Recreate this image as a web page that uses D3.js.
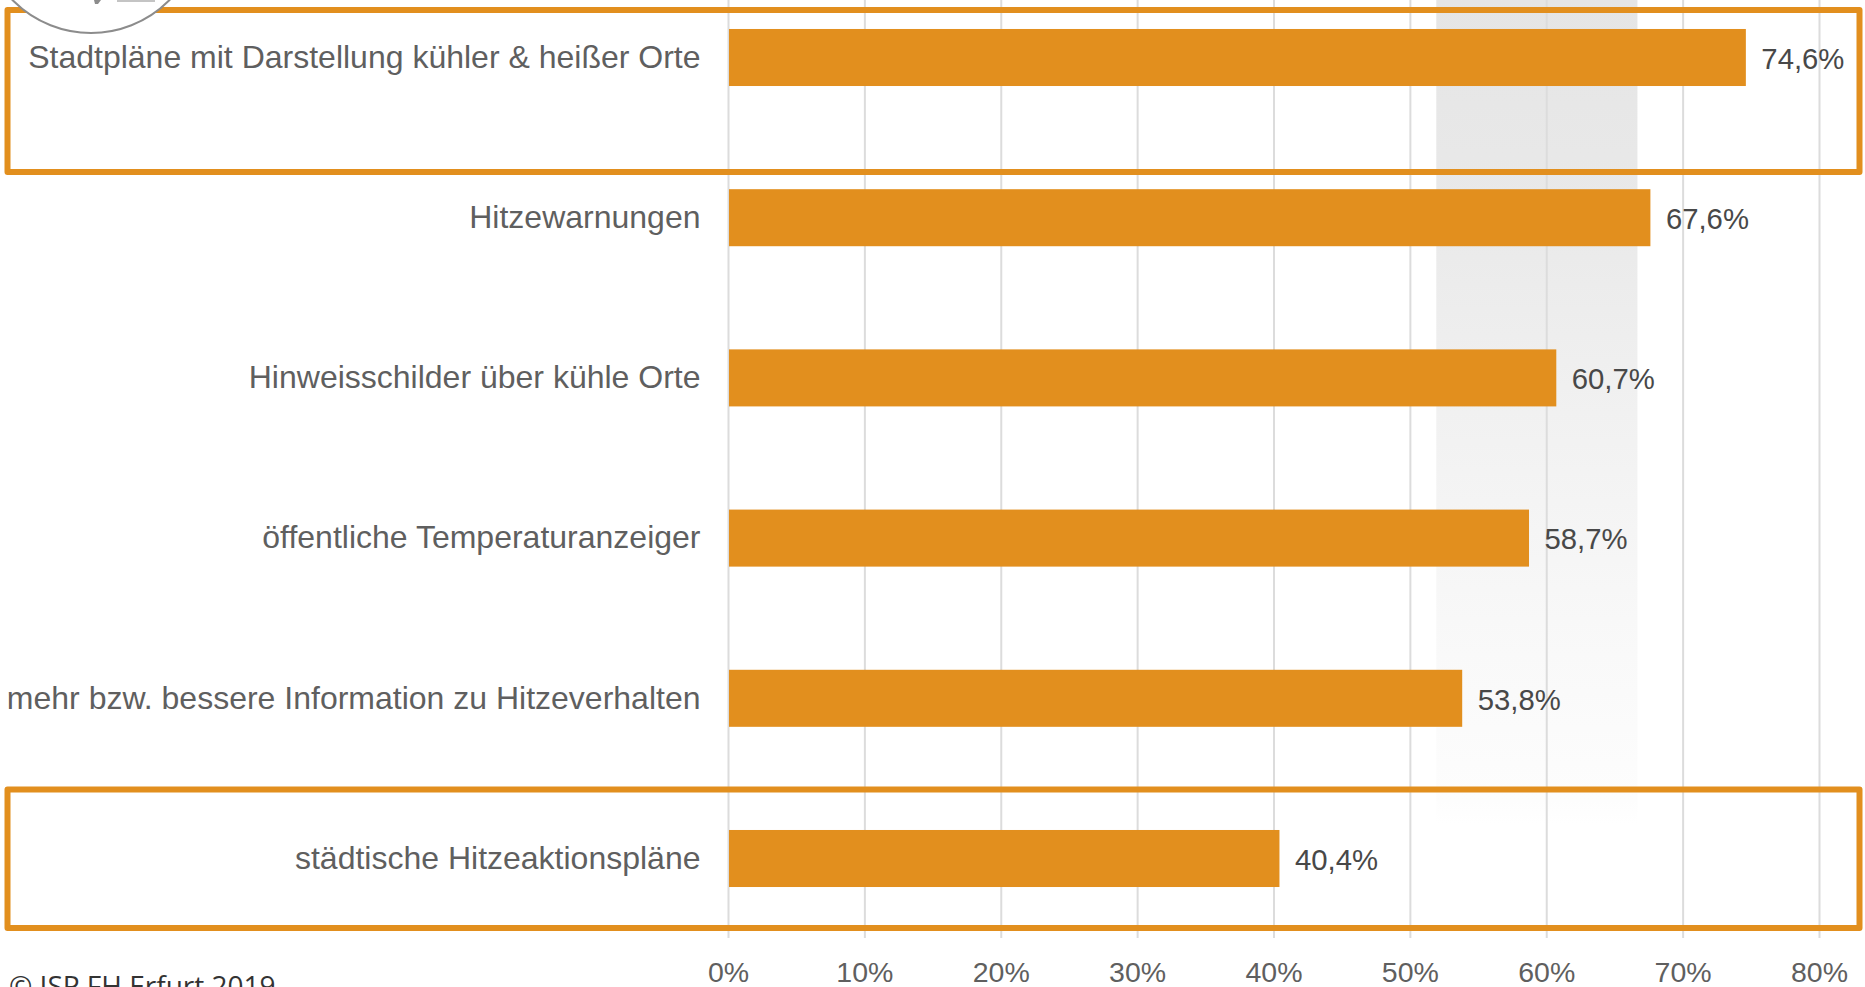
<!DOCTYPE html>
<html><head><meta charset="utf-8">
<script src="https://cdn.jsdelivr.net/npm/d3@7/dist/d3.min.js"></script>
<style>html,body{margin:0;padding:0;background:#fff;overflow:hidden}svg{display:block}</style>
</head><body><svg id="c" width="1865" height="987"></svg>
<script>
const categories = ["Stadtpläne mit Darstellung kühler & heißer Orte","Hitzewarnungen","Hinweisschilder über kühle Orte","öffentliche Temperaturanzeiger","mehr bzw. bessere Information zu Hitzeverhalten","städtische Hitzeaktionspläne"];
const values = [74.6,67.6,60.7,58.7,53.8,40.4];
const valueLabels = ["74,6%","67,6%","60,7%","58,7%","53,8%","40,4%"];
const xTicks = [0,10,20,30,40,50,60,70,80];
const bandRange = [51.9,66.65];
const highlighted = ["Stadtpläne mit Darstellung kühler & heißer Orte","städtische Hitzeaktionspläne"];
const footer = "© ISP FH Erfurt 2019";

const svg = d3.select("#c");
const ORANGE = "#e28f1e";
const FONT = "'Liberation Sans', Arial, sans-serif";
const x = d3.scaleLinear().domain([0,80]).range([728.5,1819.5]);
const y = d3.scaleBand().domain(categories).range([-22.6,938.6]).paddingInner(0.644).paddingOuter(0.322);

const defs = svg.append("defs");
const g = defs.append("linearGradient").attr("id","fade").attr("x1",0).attr("x2",0).attr("y1",0).attr("y2",1);
[[0,"#e5e5e5"],[0.25,"#e9e9e9"],[0.5,"#f1f1f1"],[0.75,"#f8f8f8"],[0.97,"#fdfdfd"],[1,"#ffffff"]].forEach(([o,c])=>g.append("stop").attr("offset",o).attr("stop-color",c));
svg.append("rect").attr("x",x(bandRange[0])).attr("width",x(bandRange[1])-x(bandRange[0])).attr("y",0).attr("height",825).attr("fill","url(#fade)");

svg.append("g").selectAll("line").data(xTicks).join("line")
  .attr("x1",d=>x(d)).attr("x2",d=>x(d)).attr("y1",0).attr("y2",938)
  .attr("stroke","#dcdcdc").attr("stroke-width",2);

svg.append("g").selectAll("rect").data(categories).join("rect")
  .attr("x",x(0)+0.5).attr("y",d=>y(d)).attr("height",y.bandwidth())
  .attr("width",(d,i)=>x(values[i])-x(0)-0.5).attr("fill",ORANGE);

svg.append("g").selectAll("rect").data(highlighted).join("rect")
  .attr("x",7.5).attr("width",1852)
  .attr("y",(d,i)=>y(d)-(i===0?19:40.5)).attr("height",(d,i)=>i===0?162:138.5)
  .attr("fill","none").attr("stroke",ORANGE).attr("stroke-width",6).attr("stroke-linejoin","round");

svg.append("circle").attr("cx",91).attr("cy",-77).attr("r",110).attr("fill","#fff").attr("stroke","#8c8c8c").attr("stroke-width",2);
svg.append("path").attr("d","M94,0L101,0L98,4L95,4Z").attr("fill","#8c8c8c");
svg.append("rect").attr("x",117).attr("y",0).attr("width",38).attr("height",2).attr("fill","#c4c4c4");

svg.append("g").selectAll("text").data(categories).join("text")
  .attr("x",700.5).attr("y",d=>y(d)+y.bandwidth()/2-1).attr("dy","0.35em").attr("text-anchor","end")
  .attr("font-family",FONT).attr("font-size",32).attr("fill","#5f5f5f").text(d=>d);

svg.append("g").selectAll("text").data(categories).join("text")
  .attr("x",(d,i)=>x(values[i])+15.5).attr("y",d=>y(d)+y.bandwidth()/2+1).attr("dy","0.35em")
  .attr("font-family",FONT).attr("font-size",29.3).attr("fill","#484848").text((d,i)=>valueLabels[i]);

const axis = d3.axisBottom(x).tickValues(xTicks).tickFormat(d=>d+"%").tickSize(0).tickPadding(0);
const ax = svg.append("g").attr("transform","translate(-0.5,972)").call(axis);
ax.select(".domain").remove();
ax.selectAll("text").attr("font-family",FONT).attr("font-size",28.5).attr("fill","#5f5f5f").attr("dy","0.35em").attr("y",0);

svg.append("text").attr("x",9).attr("y",996).attr("font-family","'Open Sans', sans-serif").attr("font-size",28).attr("fill","#333").text(footer);
</script></body></html>
